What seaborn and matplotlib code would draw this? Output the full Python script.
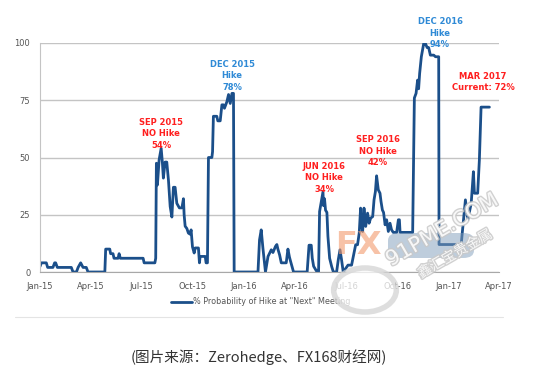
import numpy as np
import pandas as pd
import seaborn as sns
import matplotlib.pyplot as plt
import matplotlib.dates as mdates
import matplotlib.patheffects as pe
from matplotlib.lines import Line2D
from matplotlib.patches import FancyBboxPatch, Circle

# x = months since 1 Jan 2015, y = % probability
months = [0, 0.08, 0.37, 0.45, 0.76, 0.86, 0.92, 1.02, 1.84, 1.94, 2.14, 2.24, 2.39, 2.53, 2.72,
          2.82, 3.81, 3.86, 4.1, 4.15, 4.29, 4.35, 4.59, 4.65, 4.72, 6.06, 6.12, 6.75, 6.8,
          6.84, 6.9, 7.0, 7.12, 7.19, 7.25, 7.35, 7.45, 7.55, 7.65, 7.75, 7.84, 7.94, 8.04,
          8.19, 8.34, 8.43, 8.47, 8.53, 8.63, 8.72, 8.82, 8.88, 8.96, 9.06, 9.12, 9.31, 9.37,
          9.41, 9.71, 9.76, 9.84, 9.9, 10.1, 10.14, 10.19, 10.39, 10.45, 10.59, 10.69, 10.78,
          10.84, 10.98, 11.08, 11.18, 11.28, 11.37, 11.41,
          12.81, 12.9, 13.0, 13.1, 13.25, 13.4, 13.59, 13.69, 13.84, 13.92, 13.98, 14.08, 14.18,
          14.47, 14.57, 14.66, 14.72, 14.9, 15.7, 15.81, 15.94, 16.0, 16.08, 16.24, 16.37, 16.43,
          16.53, 16.63, 16.66, 16.72, 16.78, 16.86, 16.92, 17.02, 17.14, 17.24,
          17.43, 17.53, 17.63, 17.72, 17.82, 18.1, 18.31, 18.41, 18.55, 18.66, 18.76, 18.84,
          18.9, 18.96, 19.04, 19.14, 19.25, 19.34, 19.43, 19.55, 19.63, 19.71, 19.78, 19.88,
          19.98, 20.04, 20.12, 20.19, 20.28, 20.37, 20.47, 20.57, 20.66, 20.76, 20.96, 21.06,
          21.12, 21.16, 21.9,
          22.0, 22.1, 22.19, 22.25, 22.31, 22.41, 22.55, 22.65, 22.75, 22.84, 22.94, 23.14,
          23.24, 23.43, 23.45, 24.75, 25.0, 25.14, 25.34, 25.47, 25.53, 25.72, 25.82, 25.92, 26.41]
prob = [2.4, 4, 4, 2, 2, 4, 4, 2, 2, 0, 0, 2, 4, 2, 2,
        0, 0, 10, 10, 8, 8, 6, 6, 8, 6, 6, 4, 4, 6,
        47.5, 38, 49, 54, 48, 41, 48, 48, 40, 28.6, 24, 37, 37, 30,
        28, 28, 32, 25, 20, 19, 17, 16.5, 18.4, 11, 8.3, 10.5, 10.5, 4,
        6.8, 6.8, 4, 4, 50, 50, 52.5, 68, 68, 66, 66, 73, 73,
        71.5, 74.3, 77.5, 73.6, 78, 78, 0,
        0, 14, 18.4, 10.4, 0, 6.8, 9.7, 8.5, 11.2, 12, 10, 7.5, 4,
        4, 10, 6.5, 4.8, 0, 0, 11.7, 11.7, 6, 2.5, 0.5, 0, 26.4,
        30.8, 35, 29, 32, 27, 26, 15.6, 6, 2.4, 0,
        0, 5.4, 9.7, 5.4, 0, 3, 3, 6.8, 11.9, 11.9, 17, 27.9,
        21.3, 17.7, 27.9, 19.9, 25.7, 21.3, 23.5, 24.2, 31.5, 35.1, 42, 35.9,
        34.4, 30.8, 27.1, 26, 20.6, 22.8, 17.7, 21.3, 18.4, 17.3, 17.3, 22.8,
        22.8, 17.3, 17.3,
        76, 78, 83.8, 80, 86.7, 94, 99.8, 99.8, 98, 98, 94.7, 94.7,
        94, 94, 12, 12, 31.5, 22.8, 30, 43.8, 34.4, 34.4, 48.9, 72, 72]

series_name = '% Probability of Hike at "Next" Meeting'
yticks = [0, 25, 50, 75, 100]

notes = [
    ("SEP 2015\nNO Hike\n54%", "red"),
    ("DEC 2015\nHike\n78%", "blue"),
    ("JUN 2016\nNO Hike\n34%", "red"),
    ("SEP 2016\nNO Hike\n42%", "red"),
    ("DEC 2016\nHike\n94%", "blue"),
    ("MAR 2017\nCurrent: 72%", "red"),
]
note_pos = [(161, 134), (232, 76), (324, 178), (378, 151), (440, 33), (483, 82)]

dates = pd.Timestamp("2015-01-01") + pd.to_timedelta(np.array(months) * 30.437, unit="D")
df = pd.DataFrame({"date": dates, "prob": prob})

sns.set_style("white")
plt.rcParams["font.family"] = ["DejaVu Sans"]

W, H = 534, 375
fig = plt.figure(figsize=(W / 100, H / 100), dpi=100)
ax = fig.add_axes([40 / W, 1 - 272 / H, 459 / W, 229 / H])

sns.lineplot(data=df, x="date", y="prob", ax=ax, color="#1b4f8a", linewidth=2,
             label=series_name, legend=False)

ax.set_xlim(pd.Timestamp("2015-01-01"), pd.Timestamp("2017-04-01"))
ax.set_ylim(0, 100)
ax.set_yticks(yticks)
ax.xaxis.set_major_locator(mdates.MonthLocator(bymonth=[1, 4, 7, 10]))
ax.xaxis.set_major_formatter(mdates.DateFormatter("%b-%y"))
ax.set_xlabel("")
ax.set_ylabel("")
ax.grid(axis="y", color="#c4c4c4", linewidth=1)
ax.set_axisbelow(True)
for s in ["top", "right"]:
    ax.spines[s].set_visible(False)
ax.spines["left"].set_color("#c4c4c4")
ax.spines["bottom"].set_color("#a8a8a8")
ax.tick_params(axis="both", labelsize=6, colors="#9a9a9a", labelcolor="#555555",
               length=3, width=0.8, direction="out", pad=4)

colors = {"red": "#ff1f1f", "blue": "#2f8ad6"}
for (txt, c), (px, py) in zip(notes, note_pos):
    fig.text(px / W, 1 - py / H, txt, ha="center", va="center", color=colors[c],
             fontsize=6, fontweight="bold", linespacing=1.35)

leg = fig.legend(handles=[Line2D([], [], color="#1b4f8a", lw=2)], labels=[series_name],
                 loc="center", bbox_to_anchor=(261 / W, 1 - 302 / H), frameon=False,
                 fontsize=5.8, handlelength=2.6, handletextpad=0.1)
for t in leg.get_texts():
    t.set_color("#555555")

# FX168 / 91PME watermark
fig.add_artist(FancyBboxPatch((388 / W, 1 - 258 / H), 86 / W, 25 / H,
                              boxstyle="round,pad=0,rounding_size=0.02",
                              transform=fig.transFigure, facecolor="#7f9dbb",
                              edgecolor="none", alpha=0.5, zorder=5))
fig.text(358 / W, 1 - 245 / H, "FX", ha="center", va="center", fontsize=23,
         fontweight="heavy", color="#f39a6c", alpha=0.6, zorder=6)
halo = [pe.withStroke(linewidth=2, foreground="#c9c9c9")]
fig.add_artist(Circle((365 / W, 1 - 290 / H), 22 / H, transform=fig.transFigure,
                      facecolor="white", edgecolor="#d4d4d4", lw=4, alpha=0.75, zorder=6))
fig.text(442 / W, 1 - 230 / H, "91PME.COM", ha="center", va="center", fontsize=15,
         rotation=30, color="white", alpha=0.85, path_effects=halo, zorder=7)
fig.text(455 / W, 1 - 254 / H, "鑫汇宝贵金属", ha="center", va="center", fontsize=10,
         rotation=30, color="white", alpha=0.85, path_effects=halo, zorder=7,
         family=["Noto Sans CJK SC", "DejaVu Sans"])

fig.add_artist(Line2D([15 / W, 503 / W], [1 - 317 / H] * 2, color="#e4e4e4", lw=0.8))
fig.text(259 / W, 1 - 357 / H, "(图片来源：Zerohedge、FX168财经网)", ha="center", va="center",
         fontsize=10.5, color="#333333", family=["Noto Sans CJK SC", "DejaVu Sans"])

fig.savefig("out.png", dpi=100)
